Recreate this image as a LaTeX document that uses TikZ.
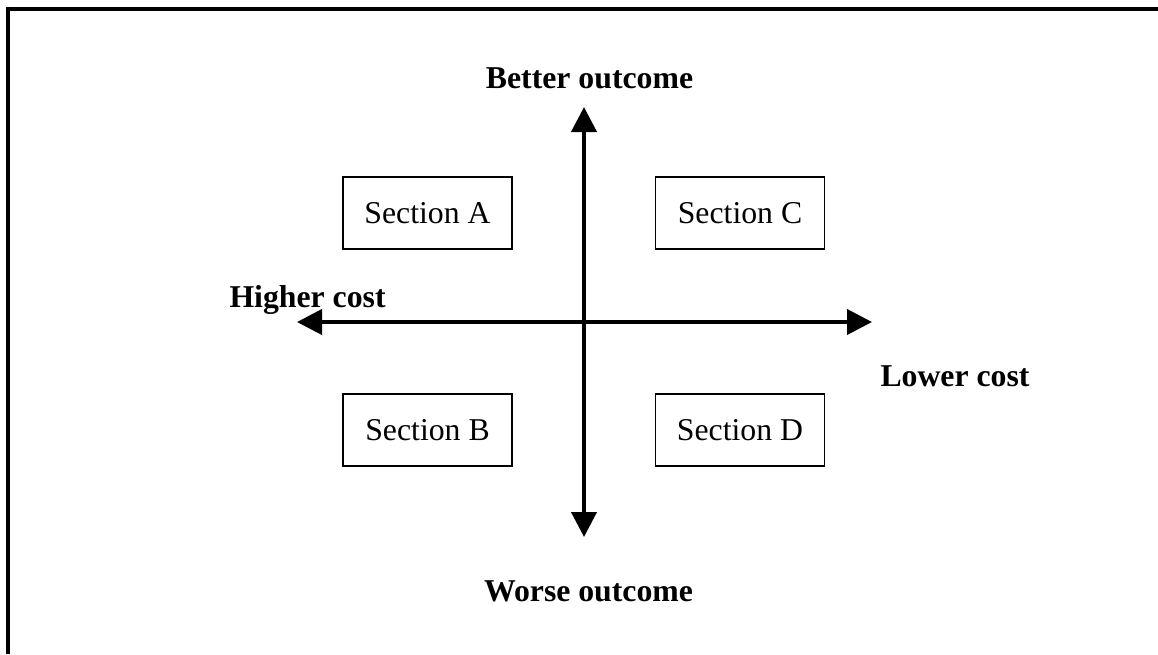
\documentclass[tikz,border=0pt]{standalone}
\usepackage{fontspec}
\setmainfont{Liberation Serif}
\usetikzlibrary{arrows.meta, positioning}
\tikzset{>={Triangle[length=10pt,width=10pt]}}
\tikzset{
  section/.style={draw, line width=0.5pt, minimum width=67.6pt, minimum height=28.8pt, inner sep=0pt, font=\fontsize{12.7}{15}\selectfont},
  axislabel/.style={inner sep=0pt, font=\fontsize{12.7}{15}\selectfont\bfseries},
  axis/.style={line width=1.6pt, <->}
}

\begin{document}
\begin{tikzpicture}[x=0.4pt, y=-0.4pt]
	\useasboundingbox (0,0) rectangle (1158,654);
	% frame
	\draw [line width=1.6pt] (8,654) -- (8,9.3) -- (1158,9.3);
	% axes
	\coordinate (top) at (584,107);
	\coordinate (bottom) at (584,537);
	\coordinate (left) at (297,322);
	\coordinate (right) at (872,322);
	\draw [axis] (bottom) -- (top);
	\draw [axis] (left) -- (right);
	% labels
	\node [axislabel, anchor=base] (better) at (589.5,88) {Better outcome};
	\node [axislabel, anchor=base] (worse) at (588.5,601) {Worse outcome};
	\node [axislabel, anchor=base west] (higher) at (229,307) {Higher cost};
	\node [axislabel, anchor=base west] (lower) at (880,386) {Lower cost};
	% sections
	\node [section] (secA) at (427.5,213) {Section A};
	\node [section] (secC) at (740,213) {Section C};
	\node [section] (secB) at (427.5,430) {Section B};
	\node [section] (secD) at (740,430) {Section D};
\end{tikzpicture}
\end{document}
